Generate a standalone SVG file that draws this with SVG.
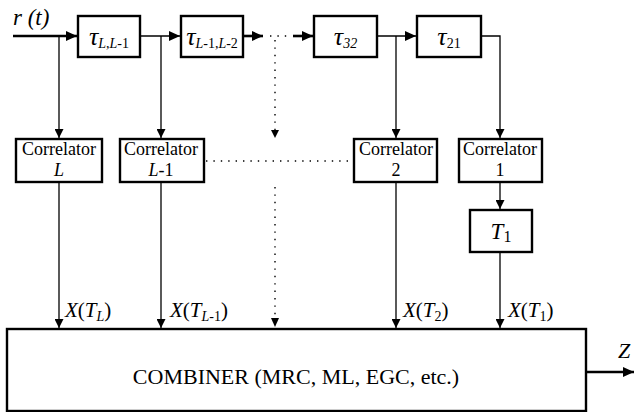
<svg xmlns="http://www.w3.org/2000/svg" width="634" height="412" viewBox="0 0 634 412" font-family="'Liberation Serif', 'DejaVu Serif', serif">
<style>
.box{fill:#fff;stroke:#000;stroke-width:2.4}
.ln{fill:none;stroke:#000;stroke-width:1.3}
.thk{fill:none;stroke:#000;stroke-width:2.6}
.dot{fill:none;stroke:#000;stroke-width:1.4;stroke-dasharray:1.4 6}
text{font-family:'Liberation Serif','DejaVu Serif',serif;fill:#000}
.i{font-style:italic}
.c{font-size:18px;text-anchor:middle}
.lab{font-size:21px}
.tau{font-size:26px;text-anchor:middle}
.sub{font-size:14px}
</style>
<defs>
<marker id="arr" markerUnits="userSpaceOnUse" markerWidth="9" markerHeight="9" viewBox="0 0 9 9" refX="9" refY="4.5" orient="auto">
<path d="M0,0 L9,4.5 L0,9 z" fill="#000"/>
</marker>
<marker id="arrB" markerUnits="userSpaceOnUse" markerWidth="11" markerHeight="10" viewBox="0 0 11 10" refX="11" refY="5" orient="auto">
<path d="M0,0 L11,5 L0,10 z" fill="#000"/>
</marker>
</defs>

<g id="connectors">
<path class="thk" d="M13,36 H77" marker-end="url(#arrB)"/>
<path class="ln" d="M140,36 H180" marker-end="url(#arrB)"/>
<path class="thk" d="M243,36 H263" marker-end="url(#arrB)"/>
<path class="dot" d="M270,36 H290"/>
<path class="thk" d="M293,36 H313" marker-end="url(#arrB)"/>
<path class="ln" d="M377,36 H416" marker-end="url(#arrB)"/>
<path class="ln" d="M481,36 H500 V138" marker-end="url(#arr)"/>
<path class="ln" d="M59,36 V138" marker-end="url(#arr)"/>
<path class="ln" d="M161,36 V138" marker-end="url(#arr)"/>
<path class="ln" d="M396,36 V138" marker-end="url(#arr)"/>
<path class="dot" d="M275,40 V130"/>
<path d="M271,130 L279,130 L275,138 z" fill="#000"/>
<path class="dot" d="M206,161 H350"/>
<path class="ln" d="M500,182 V209" marker-end="url(#arr)"/>
<path class="ln" d="M59,182 V328" marker-end="url(#arr)"/>
<path class="ln" d="M161,182 V328" marker-end="url(#arr)"/>
<path class="ln" d="M396,182 V328" marker-end="url(#arr)"/>
<path class="ln" d="M500,252 V328" marker-end="url(#arr)"/>
<path class="dot" d="M275,187 V318"/>
<path d="M271,318 L279,318 L275,327 z" fill="#000"/>
<path class="thk" d="M586,372 H634" marker-end="url(#arrB)"/>
</g>

<g id="input-label">
<text class="i" x="13" y="25" font-size="23">r (t)</text>
</g>

<g id="tau-L">
<rect class="box" x="78" y="16" width="62" height="41"/>
<text class="tau" x="109" y="45"><tspan class="i">τ</tspan><tspan class="sub i" dy="3">L</tspan><tspan class="sub">,</tspan><tspan class="sub i">L</tspan><tspan class="sub">-1</tspan></text>
</g>
<g id="tau-L1">
<rect class="box" x="181" y="16" width="62" height="41"/>
<text class="tau" x="212" y="45"><tspan class="i">τ</tspan><tspan class="sub i" dy="3">L</tspan><tspan class="sub">-1,</tspan><tspan class="sub i">L</tspan><tspan class="sub">-2</tspan></text>
</g>
<g id="tau-32">
<rect class="box" x="314" y="16" width="63" height="41"/>
<text class="tau" x="345.5" y="45"><tspan class="i">τ</tspan><tspan class="sub i" dy="3" font-size="17">32</tspan></text>
</g>
<g id="tau-21">
<rect class="box" x="417" y="16" width="64" height="41"/>
<text class="tau" x="449" y="45"><tspan class="i">τ</tspan><tspan class="sub" dy="3" font-size="17">21</tspan></text>
</g>

<g id="corr-L">
<rect class="box" x="16" y="139" width="86" height="43"/>
<text class="c" x="59" y="155">Correlator</text>
<text class="c i" x="59" y="176">L</text>
</g>
<g id="corr-L1">
<rect class="box" x="120" y="139" width="84" height="43"/>
<text class="c" x="161" y="155">Correlator</text>
<text class="c" x="161" y="176"><tspan class="i">L</tspan>-1</text>
</g>
<g id="corr-2">
<rect class="box" x="354" y="139" width="83" height="43"/>
<text class="c" x="396" y="155">Correlator</text>
<text class="c" x="396" y="176">2</text>
</g>
<g id="corr-1">
<rect class="box" x="459" y="139" width="83" height="43"/>
<text class="c" x="500" y="155">Correlator</text>
<text class="c" x="500" y="176">1</text>
</g>

<g id="T1">
<rect class="box" x="470" y="210" width="62" height="42"/>
<text x="501" y="239" font-size="23" text-anchor="middle"><tspan class="i">T</tspan><tspan font-size="16" dy="3">1</tspan></text>
</g>

<g id="labels">
<text class="lab" x="65" y="317"><tspan class="i">X</tspan>(<tspan class="i">T</tspan><tspan class="sub i" dy="4" font-size="15">L</tspan><tspan dy="-4">)</tspan></text>
<text class="lab" x="170" y="317"><tspan class="i">X</tspan>(<tspan class="i">T</tspan><tspan class="sub" dy="4"><tspan class="i">L</tspan>-1</tspan><tspan dy="-4">)</tspan></text>
<text class="lab" x="403" y="317"><tspan class="i">X</tspan>(<tspan class="i">T</tspan><tspan class="sub" dy="4" font-size="15">2</tspan><tspan dy="-4">)</tspan></text>
<text class="lab" x="508" y="317"><tspan class="i">X</tspan>(<tspan class="i">T</tspan><tspan class="sub" dy="4" font-size="15">1</tspan><tspan dy="-4">)</tspan></text>
</g>

<g id="combiner">
<rect class="box" x="7" y="329" width="579" height="82"/>
<text x="296" y="384" font-size="22" text-anchor="middle">COMBINER (MRC, ML, EGC, etc.)</text>
</g>

<g id="output-label">
<text class="i" x="618" y="358" font-size="22">Z</text>
</g>
</svg>
